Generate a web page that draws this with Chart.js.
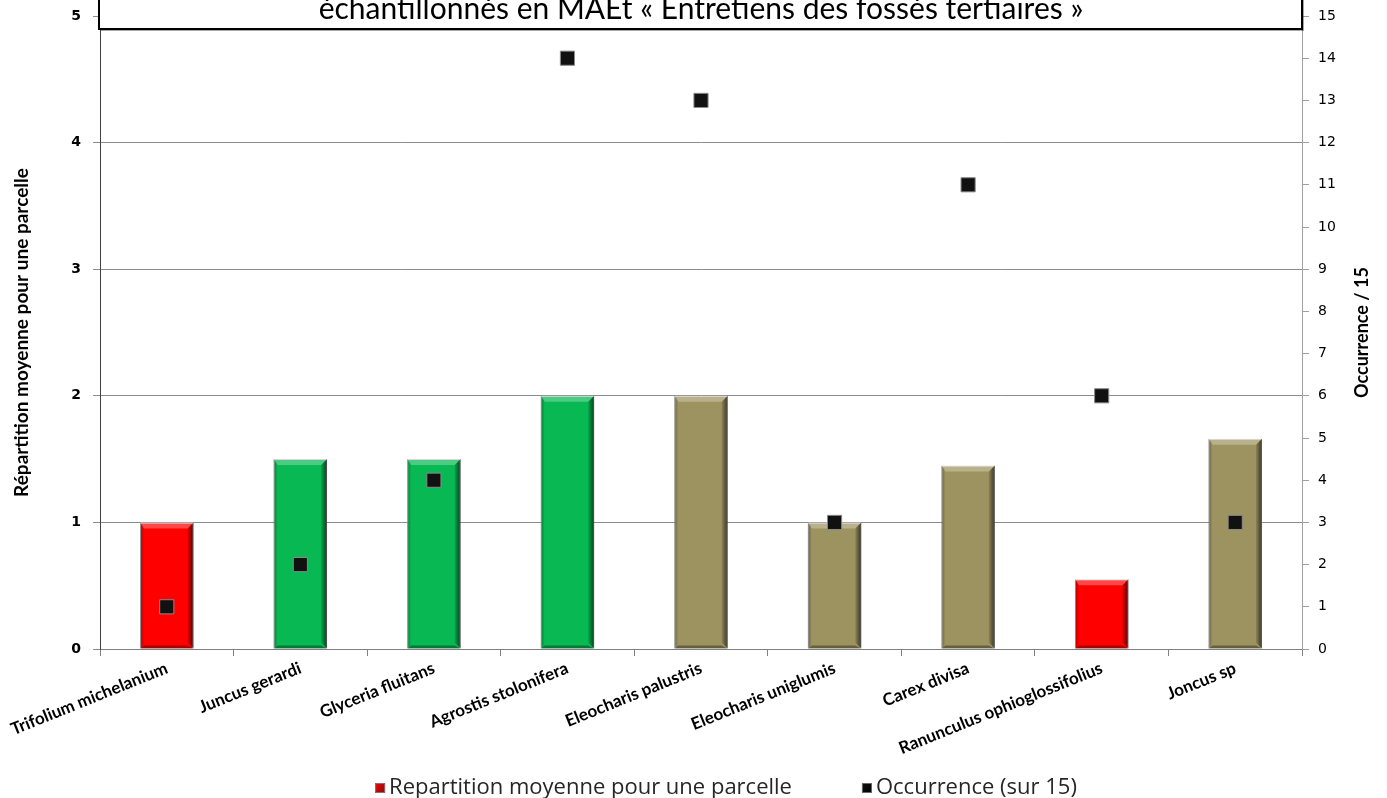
<!DOCTYPE html>
<html>
<head>
<meta charset="utf-8">
<script src="https://cdn.jsdelivr.net/npm/chart.js@4.4.1/dist/chart.umd.min.js"></script>
<style>
  html, body { margin: 0; padding: 0; background: #ffffff; overflow: hidden; }
  #wrap { width: 1387px; height: 798px; position: relative; }
</style>
</head>
<body>
<div id="wrap"><canvas id="c" width="1387" height="798"></canvas></div>
<script>
// Species sampled
const categories = [
  'Trifolium michelanium', 'Juncus gerardi', 'Glyceria fluitans', 'Agrostis stolonifera',
  'Eleocharis palustris', 'Eleocharis uniglumis', 'Carex divisa',
  'Ranunculus ophioglossifolius', 'Joncus sp'
];
// Mean cover per plot (left axis)
const repartition = [1.0, 1.5, 1.5, 2.0, 2.0, 1.0, 1.45, 0.55, 1.66];
// Number of plots where the species occurs, out of 15 (right axis)
const occurrence = [1, 2, 4, 14, 13, 3, 11, 6, 3];
// Bar colour per species group
const barColors = ['#ff0000', '#08b852', '#08b852', '#08b852', '#9d9360', '#9d9360', '#9d9360', '#ff0000', '#9d9360'];

const seriesNames = ['Repartition moyenne pour une parcelle', 'Occurrence (sur 15)'];
const leftAxisTitle = 'Répartition moyenne pour une parcelle';
const rightAxisTitle = 'Occurrence / 15';
const titleText = 'échantillonnés en MAEt « Entretiens des fossés tertiaires »';
const leftRange = [0, 5];
const rightRange = [0, 15];

// Bevelled look for the bars: light top/left edges, dark right/bottom edges
const bevelBars = {
  id: 'bevelBars',
  afterDatasetDraw(chart, args) {
    if (args.index !== 0) return;
    const ctx = chart.ctx;
    args.meta.data.forEach(el => {
      const p = el.getProps(['x', 'y', 'base', 'width'], true);
      const l = p.x - p.width / 2, r = p.x + p.width / 2;
      const t = Math.min(p.y, p.base), b = Math.max(p.y, p.base);
      const e = 6;
      ctx.save();
      let g = ctx.createLinearGradient(r - e, 0, r, 0);
      g.addColorStop(0, 'rgba(0,0,0,0.10)');
      g.addColorStop(1, 'rgba(0,0,0,0.65)');
      ctx.fillStyle = g;
      ctx.beginPath();
      ctx.moveTo(r - e, t + e); ctx.lineTo(r, t); ctx.lineTo(r, b); ctx.lineTo(r - e, b - e);
      ctx.closePath(); ctx.fill();
      g = ctx.createLinearGradient(l, 0, l + 4, 0);
      g.addColorStop(0, 'rgba(0,0,0,0.35)');
      g.addColorStop(1, 'rgba(0,0,0,0.0)');
      ctx.fillStyle = g;
      ctx.beginPath();
      ctx.moveTo(l, t); ctx.lineTo(l + 4, t + 4); ctx.lineTo(l + 4, b - 4); ctx.lineTo(l, b);
      ctx.closePath(); ctx.fill();
      ctx.fillStyle = 'rgba(255,255,255,0.28)';
      ctx.beginPath();
      ctx.moveTo(l, t); ctx.lineTo(r, t); ctx.lineTo(r - e, t + e); ctx.lineTo(l + 4, t + e);
      ctx.closePath(); ctx.fill();
      ctx.fillStyle = 'rgba(0,0,0,0.35)';
      ctx.beginPath();
      ctx.moveTo(l, b); ctx.lineTo(r, b); ctx.lineTo(r - e, b - 3); ctx.lineTo(l + 4, b - 3);
      ctx.closePath(); ctx.fill();
      ctx.restore();
    });
  }
};

// Framed title box across the top of the plot, right-hand axis title, and legend
const decorations = {
  id: 'decorations',
  afterDraw(chart) {
    const ctx = chart.ctx;
    const a = chart.chartArea;
    ctx.save();

    // title box
    const l = a.left - 1, r = a.right, bottom = 29;
    ctx.fillStyle = 'rgba(0,0,0,0.35)';
    ctx.fillRect(l + 2, -10, r - l, bottom + 12);
    ctx.fillStyle = '#ffffff';
    ctx.fillRect(l, -10, r - l, bottom + 10);
    ctx.strokeStyle = '#000000';
    ctx.lineWidth = 2;
    ctx.strokeRect(l, -10, r - l, bottom + 10);
    ctx.fillStyle = '#000000';
    ctx.font = '30px Lato';
    ctx.textAlign = 'center';
    ctx.textBaseline = 'alphabetic';
    ctx.fillText(titleText, (a.left + a.right) / 2, 19);

    // right axis title, reading upwards
    ctx.save();
    ctx.translate(1362, (a.top + a.bottom) / 2);
    ctx.rotate(-Math.PI / 2);
    ctx.font = 'bold 18px Lato';
    ctx.textAlign = 'center';
    ctx.textBaseline = 'middle';
    ctx.fillText(rightAxisTitle, 0, 0);
    ctx.restore();

    // legend
    const ds = chart.data.datasets;
    ctx.font = '22px "Open Sans"';
    ctx.textAlign = 'left';
    ctx.textBaseline = 'middle';
    const box = 10, gap = 4, spacing = 70, yMid = 788;
    const widths = ds.map(d => box + gap + ctx.measureText(d.label).width);
    const total = widths.reduce((s, w) => s + w, 0) + spacing * (ds.length - 1);
    let x = 726 - total / 2;
    ds.forEach((d, i) => {
      const fill = Array.isArray(d.backgroundColor) ? d.backgroundColor[0] : d.backgroundColor;
      const g = ctx.createLinearGradient(x, yMid - box / 2, x + box, yMid + box / 2);
      g.addColorStop(0, fill);
      g.addColorStop(1, i === 0 ? '#7a1010' : '#000000');
      ctx.fillStyle = g;
      ctx.fillRect(x, yMid - box / 2, box, box);
      ctx.strokeStyle = i === 0 ? '#9a6a6a' : '#6a6a6a';
      ctx.lineWidth = 1;
      ctx.strokeRect(x + 0.5, yMid - box / 2 + 0.5, box - 1, box - 1);
      ctx.fillStyle = '#262626';
      ctx.fillText(d.label, x + box + gap, yMid);
      x += widths[i] + spacing;
    });
    ctx.restore();
  }
};

function fixVertical(width) {
  return s => { s.width = width; s.paddingTop = 0; s.paddingBottom = 0; };
}

new Chart(document.getElementById('c'), {
  type: 'bar',
  data: {
    labels: categories,
    datasets: [
      {
        label: seriesNames[0],
        data: repartition,
        backgroundColor: barColors,
        borderColor: '#c8c8c8',
        borderWidth: 1,
        yAxisID: 'y',
        barPercentage: 0.4,
        categoryPercentage: 1.0,
        order: 2
      },
      {
        type: 'line',
        label: seriesNames[1],
        data: occurrence,
        showLine: false,
        yAxisID: 'y2',
        pointStyle: 'rect',
        pointRadius: 10,
        pointHoverRadius: 10,
        backgroundColor: '#111111',
        borderColor: '#8a8a8a',
        pointBorderWidth: 1,
        order: 1
      }
    ]
  },
  options: {
    responsive: false,
    animation: false,
    devicePixelRatio: 1,
    layout: { padding: { top: 16, left: 0, right: 0, bottom: 0 } },
    plugins: {
      title: { display: false },
      tooltip: { enabled: false },
      legend: { display: false }
    },
    scales: {
      x: {
        offset: true,
        grid: { drawOnChartArea: false, drawTicks: true, tickLength: 7, color: '#808080', offset: true },
        border: { color: '#808080', width: 1 },
        ticks: {
          minRotation: 22, maxRotation: 22, autoSkip: false, padding: 2,
          color: '#000000',
          font: { family: 'Lato', size: 17, weight: 'bold' }
        },
        afterFit(s) { s.height = 149; s.paddingLeft = 0; s.paddingRight = 0; }
      },
      y: {
        position: 'left',
        min: leftRange[0], max: leftRange[1],
        ticks: {
          stepSize: 1, padding: 12, color: '#000000',
          font: { family: 'DejaVu Sans', size: 14, weight: 'bold' }
        },
        grid: { color: '#8c8c8c', tickLength: 7, drawTicks: true },
        border: { color: '#404040', width: 1 },
        title: {
          display: true, text: leftAxisTitle, color: '#000000',
          font: { family: 'Lato', size: 19, weight: 'bold' },
          padding: { top: 10, bottom: 0 }
        },
        afterFit: fixVertical(100)
      },
      y2: {
        position: 'right',
        min: rightRange[0], max: rightRange[1],
        ticks: {
          stepSize: 1, padding: 9, color: '#000000',
          font: { family: 'DejaVu Sans', size: 14 }
        },
        grid: { drawOnChartArea: false, color: '#a0a0a0', tickLength: 7 },
        border: { color: '#a0a0a0', width: 1 },
        afterFit: fixVertical(85)
      }
    }
  },
  plugins: [bevelBars, decorations]
});
</script>
</body>
</html>
